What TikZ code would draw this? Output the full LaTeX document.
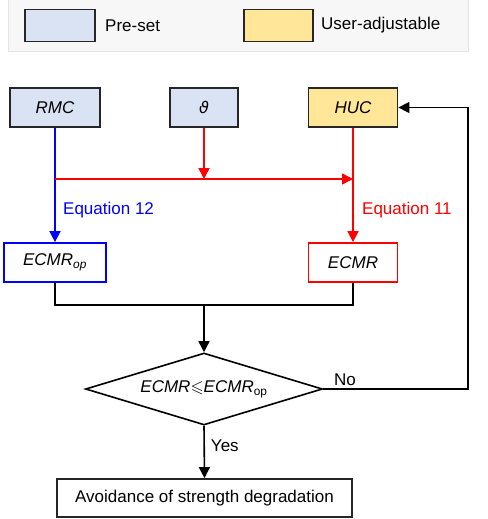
\documentclass[tikz,border=0pt]{standalone}
\usepackage{fontspec}
\usepackage{amssymb}
\setmainfont{Liberation Sans}
\newfontfamily\dejavufam{DejaVu Sans}
\usetikzlibrary{arrows.meta,shapes.geometric}
\definecolor{preset}{HTML}{DAE3F3}
\definecolor{useradj}{HTML}{FFE699}
\definecolor{legbg}{HTML}{F7F7F7}
\definecolor{legline}{HTML}{E4E4E4}
\definecolor{myblue}{HTML}{0000FF}
\definecolor{myred}{HTML}{FF0000}
\tikzset{
  box/.style={draw=black!85, line width=1.8pt, minimum height=39pt, inner sep=0pt, font=\fontsize{17}{19}\selectfont\itshape},
  conn/.style={line width=1.6pt, -{Triangle[length=11pt,width=11pt]}},
  plain/.style={line width=1.6pt},
  lbl/.style={font=\fontsize{17}{19}\selectfont, inner sep=0pt}
}
\begin{document}
\begin{tikzpicture}[x=1pt,y=-1pt]
\useasboundingbox (0,0) rectangle (487,519);
\fill[white] (0,0) rectangle (487,519);
% legend
\draw[fill=legbg, draw=legline, line width=0.8pt] (8,-2) rectangle (468,51);
\node[box, fill=preset, minimum width=70pt, minimum height=32pt] (lg1) at (60,25.5) {};
\node[lbl, anchor=west] (lt1) at (105,25.5) {Pre-set};
\node[box, fill=useradj, minimum width=69pt, minimum height=32pt] (lg2) at (278.5,25.5) {};
\node[lbl, anchor=west] (lt2) at (321,25.5) {User-adjustable};
% top row
\node[box, fill=preset, minimum width=90pt] (rmc) at (55,107.5) {RMC};
\node[box, fill=preset, minimum width=68pt, font=\fontsize{16}{18}\selectfont\dejavufam\itshape] (th) at (204,107.5) {ϑ};
\node[box, fill=useradj, minimum width=89pt] (huc) at (353,107.5) {HUC};
% middle boxes
\node[box, draw=myblue, fill=white, minimum width=102pt] (ecop) at (55,262.5) {ECMR\textsubscript{op}};
\node[box, draw=myred, fill=white, minimum width=89pt] (ecmr) at (353,262.5) {ECMR};
% diamond
\node[diamond, draw=black, line width=1.6pt, fill=white, minimum width=237pt, minimum height=72pt, inner sep=0pt, aspect=3.3] (dec) at (204,389) {};
\node[lbl] (dtxt) at (204,389) {\textit{ECMR}$\leqslant$\textit{ECMR}\textsubscript{op}};
% final
\node[box, fill=white, minimum width=295pt, minimum height=38pt, font=\fontsize{17}{19}\selectfont] (fin) at (204.5,498) {Avoidance of strength degradation};
% coordinates
\coordinate (rj) at (55,179);
\coordinate (tj) at (204,179);
\coordinate (hj) at (353,179);
\coordinate (m1) at (55,305);
\coordinate (m2) at (353,305);
\coordinate (mc) at (204,305);
\coordinate (fb1) at (468,389);
\coordinate (fb2) at (468,107.5);
% connectors
\draw[conn, myblue] (rmc.south) -- (ecop.north);
\draw[conn, myred] (th.south) -- (tj);
\draw[conn, myred] (rj) -- (hj);
\draw[conn, myred] (huc.south) -- (ecmr.north);
\node[lbl, myblue, anchor=west] (eq12) at (63,210) {Equation 12};
\node[lbl, myred, anchor=west] (eq11) at (362,210) {Equation 11};
\draw[plain] (ecop.south) -- (m1) -- (m2) -- (ecmr.south);
\draw[conn] (mc) -- (dec.north);
\draw[conn] (dec.south) -- (fin.north) node[lbl, pos=0.38, anchor=west, xshift=6pt] (yes) {Yes};
\draw[conn] (dec.east) -- (fb1) -- (fb2) -- (huc.east);
\node[lbl, anchor=west] (no) at (334,380) {No};
\end{tikzpicture}
\end{document}
